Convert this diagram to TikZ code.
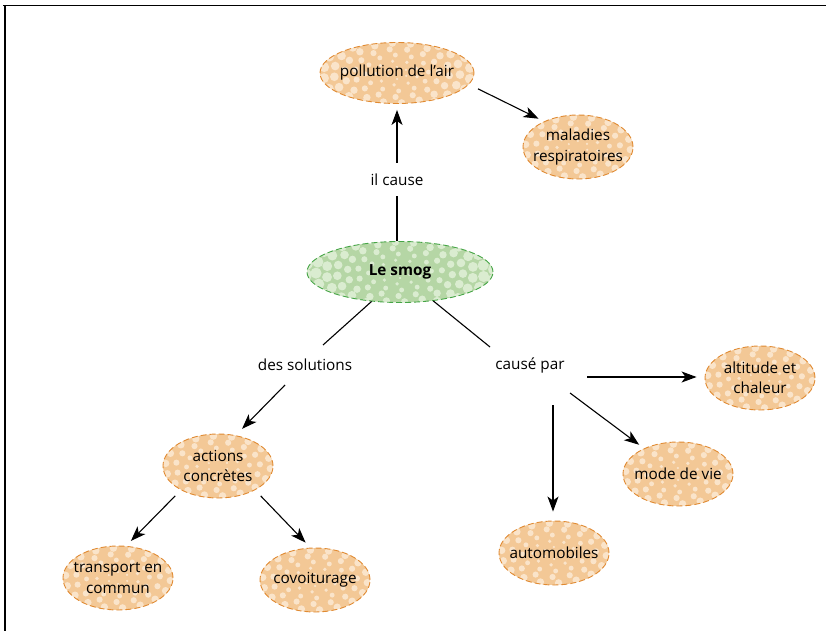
\documentclass[tikz,border=0pt]{standalone}
\usepackage{fontspec}
\setmainfont{Open Sans}
\usetikzlibrary{shapes.geometric,arrows.meta}
\definecolor{ofill}{RGB}{243,200,150}
\definecolor{odot}{RGB}{250,228,202}
\definecolor{oline}{RGB}{224,138,50}
\definecolor{gfill}{RGB}{181,214,165}
\definecolor{gdot}{RGB}{218,236,208}
\definecolor{gline}{RGB}{70,165,70}
% #1 x, #2 y, #3 rx, #4 ry, #5 fill colour, #6 dot colour
\newcommand\bubback[6]{%
  \begin{scope}
  \fill[#5] (#1,#2) ellipse[x radius=#3, y radius=#4];
  \clip (#1,#2) ellipse[x radius=#3, y radius=#4];
  \foreach \bi in {1,...,10}{%
    \pgfmathtruncatemacro\bn{3+3*\bi}%
    \foreach \bk in {1,...,\bn}{%
      \pgfmathsetmacro\ba{360/\bn*\bk+29*\bi}%
      \pgfmathsetmacro\bx{#1+\bi*10.5*cos(\ba)}%
      \pgfmathsetmacro\by{#2+\bi*6*sin(\ba)}%
      \pgfmathsetmacro\br{0.6+0.62*\bi}%
      \fill[#6] (\bx,\by) circle[radius=\br];
    }%
  }%
  \end{scope}
}
\tikzset{
  txt/.style={font=\fontsize{15.3}{20.5}\selectfont, align=center, text=black},
  bubshape/.style={txt, ellipse, inner xsep=-30pt, inner ysep=-14pt,
    line width=0.9pt, dash pattern=on 6pt off 3pt},
  obub/.style={bubshape, minimum width=110pt, minimum height=64pt, draw=oline},
  gbub/.style={bubshape, minimum width=186pt, minimum height=61pt, draw=gline},
  lbl/.style={txt, inner sep=2pt},
  link/.style={line width=1.1pt, draw=black},
  arr/.style={link, -{Stealth[length=15pt,width=11pt,inset=4pt]}},
}
\begin{document}
\begin{tikzpicture}[x=1pt,y=-1pt]
\useasboundingbox (0,0) rectangle (826,631);
\draw[line width=1.3pt] (3,5.5) -- (826,5.5);
\draw[line width=1.3pt] (5,5.5) -- (5,631);

\bubback{400}{272}{93}{30.5}{gfill}{gdot}
\bubback{397}{73}{77}{30.5}{ofill}{odot}
\bubback{578}{147}{55}{32}{ofill}{odot}
\bubback{760}{378}{55}{32}{ofill}{odot}
\bubback{678}{474}{55}{32}{ofill}{odot}
\bubback{554}{553}{55}{32}{ofill}{odot}
\bubback{218}{466}{55}{32}{ofill}{odot}
\bubback{118}{578}{55}{32}{ofill}{odot}
\bubback{315}{580}{55}{32}{ofill}{odot}

\node[gbub] (smog) at (400,272) {\textbf{Le smog}};
\node[obub, minimum width=154pt, minimum height=61pt] (poll) at (397,73) {pollution de l’air};
\node[obub] (mal) at (578,147) {maladies\\respiratoires};
\node[obub] (alt) at (760,378) {altitude et\\chaleur};
\node[obub] (mode) at (678,474) {mode de vie};
\node[obub] (auto) at (554,553) {automobiles};
\node[obub] (act) at (218,466) {actions\\concrètes};
\node[obub] (trans) at (118,578) {transport en\\commun};
\node[obub] (covo) at (315,580) {covoiturage};

\node[lbl] (cause) at (397,180) {il cause};
\node[lbl] (sol) at (305,365) {des solutions};
\node[lbl] (par) at (530,365) {causé par};

% il cause
\coordinate (c1) at (397,196);
\coordinate (c2) at (397,163);
\draw[link] (c1) -- (c1 |- smog.north);
\draw[arr, shorten >=6pt] (c2) -- (c2 |- poll.south);
\draw[arr, shorten <=10pt, shorten >=6pt] (poll.351) -- (mal.143);

% des solutions
\coordinate (s1) at (323,345);
\coordinate (s2) at (285,385);
\draw[link] (smog.226) -- (s1);
\draw[arr, shorten >=9pt] (s2) -- (act.60);
\draw[arr, shorten <=8pt, shorten >=7pt] (act.213) -- (trans.76);
\draw[arr, shorten <=8pt, shorten >=7pt] (act.327) -- (covo.98);

% cause par
\coordinate (p1) at (490,347);
\coordinate (pa) at (587,377);
\coordinate (pm) at (570,393);
\coordinate (pu) at (553,405);
\draw[link] (smog.319) -- (p1);
\draw[arr, shorten >=8pt] (pa) -- (alt.west |- pa);
\draw[arr, shorten >=6pt] (pm) -- (mode.143);
\draw[arr, shorten >=9pt] (pu) -- (pu |- auto.north);
\end{tikzpicture}
\end{document}
